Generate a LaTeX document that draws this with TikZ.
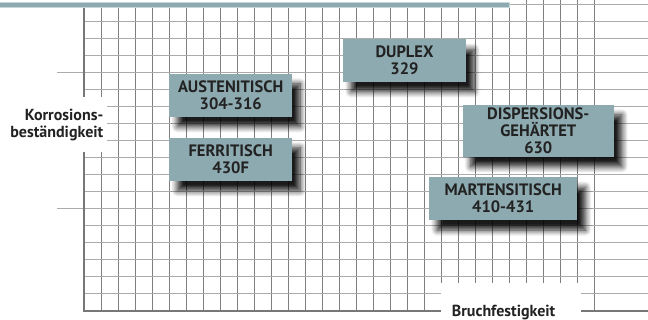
\documentclass[tikz,border=0pt]{standalone}
\usepackage{fontspec}
\setmainfont{PT Sans}
\usetikzlibrary{shadows.blur}
\definecolor{STTeal}{HTML}{8DAAB0}
\definecolor{STTealLight}{HTML}{C5D5D8}
\definecolor{STGridV}{HTML}{7F7F7F}
\definecolor{STGridH}{HTML}{ABABAB}
\definecolor{STAxis}{HTML}{777777}
\definecolor{STText}{HTML}{222222}
\tikzset{
  gradebox/.style={fill=STTeal, text=STText, font=\bfseries\fontsize{16.5}{17}\selectfont,
    align=center, inner sep=0pt,
    blur shadow={shadow xshift=8pt, shadow yshift=-10pt, shadow blur radius=6pt,
      shadow blur steps=8, shadow opacity=90}},
  axislabel/.style={text=STText, font=\bfseries\fontsize{16}{17.7}\selectfont, inner sep=0pt}
}

\begin{document}
\begin{tikzpicture}[x=1pt,y=-1pt]
\path[use as bounding box] (0,0) rectangle (648,320);
% grid
\foreach \i in {1,...,25} \draw[STGridV, line width=1pt] (84+17*\i,7) -- (84+17*\i,310.7);
\foreach \i in {26,...,30} \draw[STGridV, line width=1pt] (84+17*\i,0) -- (84+17*\i,310.7);
\foreach \k in {1,...,18} \draw[STGridH, line width=1.2pt] (84,310.7-17*\k) -- (648,310.7-17*\k);
\foreach \k in {6,14} \draw[STGridH, line width=1.2pt] (57,310.7-17*\k) -- (84,310.7-17*\k);
% axes
\draw[STAxis, line width=1.7pt] (84,7) -- (84,310.7) -- (648,310.7);
% axis labels
\fill[white] (0,96.7) rectangle (107,151.7);
\node[axislabel, align=right, anchor=east] (ylabel) at (103.5,125) {Korrosions-\\beständigkeit};
\fill[white] (441,283) rectangle (581,322);
\node[axislabel, anchor=base west] (xlabel) at (451.7,316.7) {Bruchfestigkeit};
% steel grades
\node[gradebox, minimum width=122.7pt, minimum height=42.7pt] (austenit) at (230.7,95.3) {AUSTENITISCH\\304-316};
\node[gradebox, minimum width=122.7pt, minimum height=43pt] (ferrit) at (230.7,159.2) {FERRITISCH\\430F};
\node[gradebox, minimum width=123pt, minimum height=42.4pt] (duplex) at (404.5,60.5) {DUPLEX\\329};
\node[gradebox, minimum width=151.3pt, minimum height=51.7pt] (dispers) at (538.3,130.8) {DISPERSIONS-\\GEHÄRTET\\630};
\node[gradebox, minimum width=148.3pt, minimum height=42.7pt] (marten) at (503.2,198.7) {MARTENSITISCH\\410-431};
% header band
\filldraw[fill=STTeal, draw=STTealLight, line width=.8pt] (-2,2.5) rectangle (509,7);
\end{tikzpicture}
\end{document}
